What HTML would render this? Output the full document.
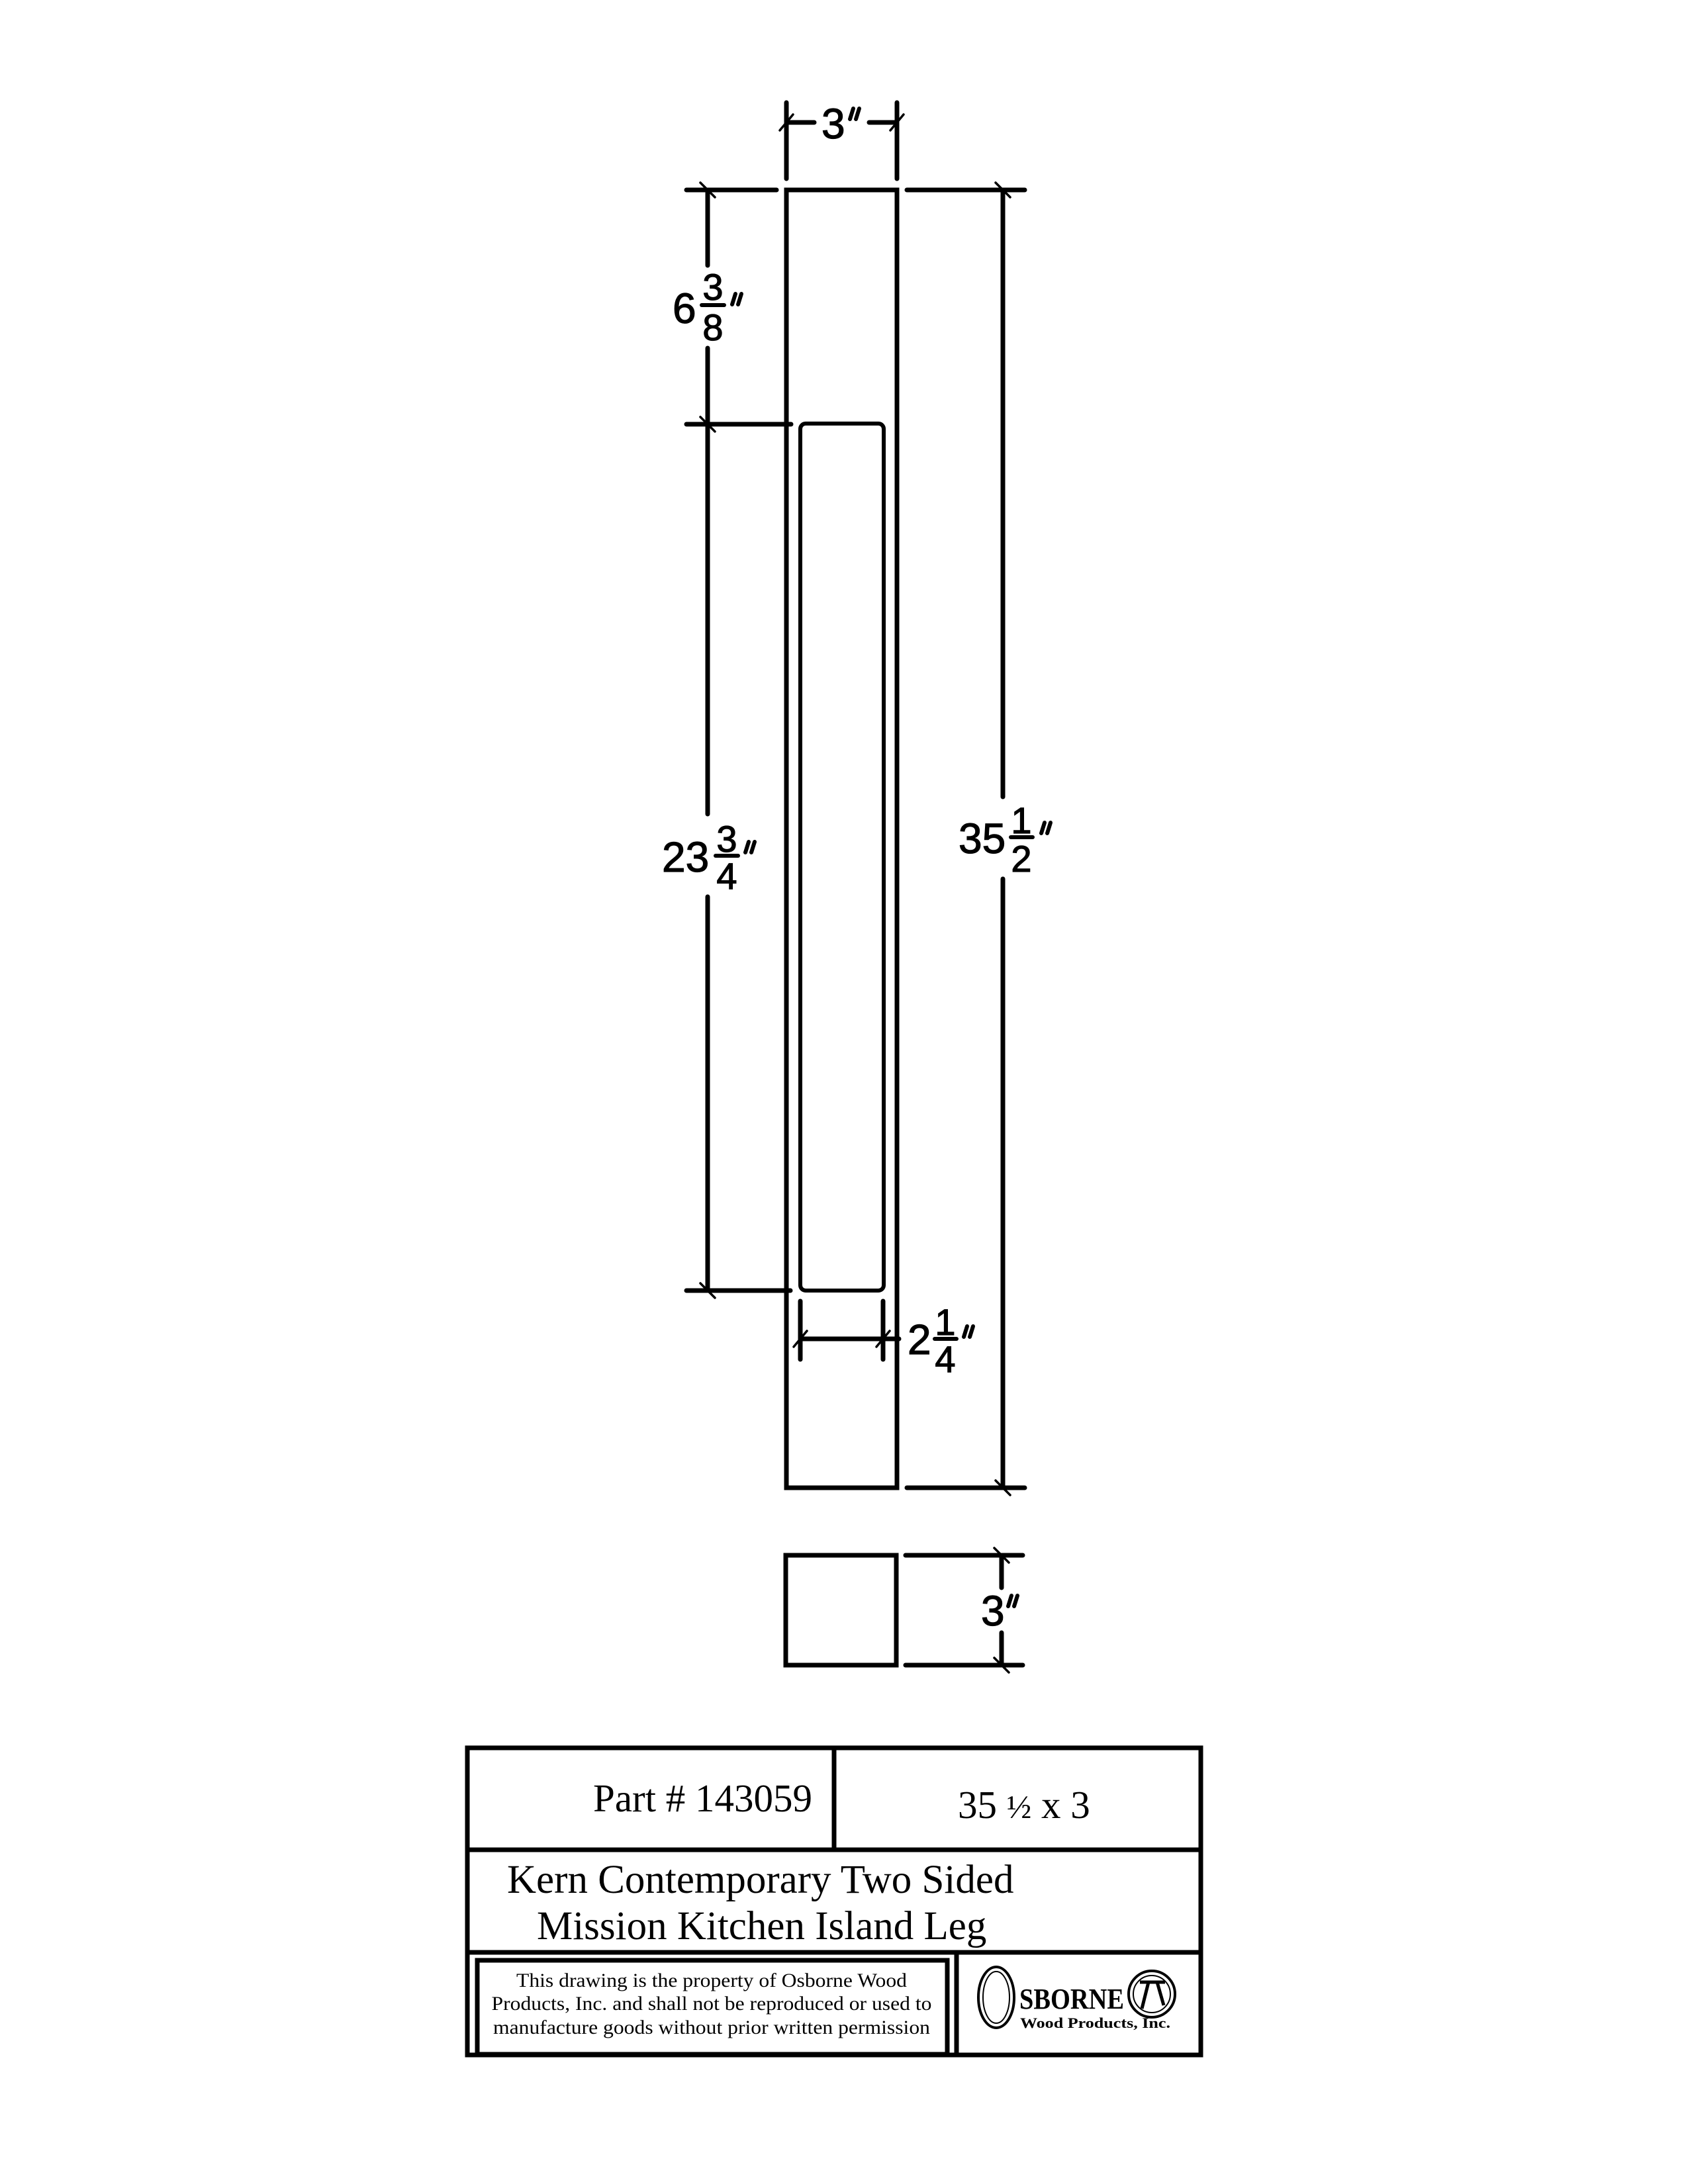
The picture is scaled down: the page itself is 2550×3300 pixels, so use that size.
<!DOCTYPE html>
<html><head><meta charset="utf-8"><style>
html,body{margin:0;padding:0;background:#fff;}
svg{display:block;}
.d{font-family:"Liberation Sans",sans-serif;font-size:64px;fill:#000;stroke:#000;stroke-width:1.2px;}
.f{font-family:"Liberation Sans",sans-serif;font-size:56px;fill:#000;stroke:#000;stroke-width:1.2px;text-anchor:middle;}
.s{font-family:"Liberation Serif",serif;fill:#000;}
</style></head><body>
<svg width="2550" height="3300" viewBox="0 0 2550 3300" xmlns="http://www.w3.org/2000/svg">
<g stroke="#000" stroke-width="7" stroke-linecap="round" fill="none">
<rect x="1188" y="287" width="167" height="1961"/>
<rect x="1209" y="640" width="126" height="1310" rx="8" stroke-width="6"/>
<line x1="1188" y1="155" x2="1188" y2="270"/>
<line x1="1355" y1="155" x2="1355" y2="270"/>
<line x1="1188" y1="185" x2="1230" y2="185"/>
<line x1="1313" y1="185" x2="1355" y2="185"/>
<line x1="1037" y1="287" x2="1173" y2="287"/>
<line x1="1370" y1="287" x2="1548" y2="287"/>
<line x1="1037" y1="641" x2="1195" y2="641"/>
<line x1="1037" y1="1950" x2="1194" y2="1950"/>
<line x1="1370" y1="2248" x2="1548" y2="2248"/>
<line x1="1069" y1="287" x2="1069" y2="401"/>
<line x1="1069" y1="526" x2="1069" y2="641"/>
<line x1="1069" y1="641" x2="1069" y2="1230"/>
<line x1="1069" y1="1355" x2="1069" y2="1950"/>
<line x1="1515" y1="287" x2="1515" y2="1204"/>
<line x1="1515" y1="1328" x2="1515" y2="2248"/>
<line x1="1209" y1="1966" x2="1209" y2="2054"/>
<line x1="1334" y1="1966" x2="1334" y2="2054"/>
<line x1="1209" y1="2023" x2="1358" y2="2023"/>
<rect x="1187" y="2350" width="167" height="166"/>
<line x1="1368" y1="2350" x2="1545" y2="2350"/>
<line x1="1368" y1="2516" x2="1545" y2="2516"/>
<line x1="1513" y1="2350" x2="1513" y2="2399"/>
<line x1="1513" y1="2467" x2="1513" y2="2516"/>
</g>
<g stroke="#000" stroke-width="3.5" stroke-linecap="round">
<line x1="1178" y1="197" x2="1198" y2="173"/>
<line x1="1345" y1="197" x2="1365" y2="173"/>
<line x1="1058" y1="276" x2="1080" y2="298"/>
<line x1="1058" y1="630" x2="1080" y2="652"/>
<line x1="1058" y1="1939" x2="1080" y2="1961"/>
<line x1="1504" y1="276" x2="1526" y2="298"/>
<line x1="1504" y1="2237" x2="1526" y2="2259"/>
<line x1="1199" y1="2035" x2="1219" y2="2011"/>
<line x1="1324" y1="2035" x2="1344" y2="2011"/>
<line x1="1502" y1="2339" x2="1524" y2="2361"/>
<line x1="1502" y1="2505" x2="1524" y2="2527"/>
</g>
<g stroke="#000" stroke-width="6" stroke-linecap="round">
<line x1="1060" y1="461" x2="1094" y2="461"/>
<line x1="1081" y1="1293" x2="1115" y2="1293"/>
<line x1="1527" y1="1265" x2="1560" y2="1265"/>
<line x1="1412" y1="2023" x2="1445" y2="2023"/>
<line x1="1106" y1="460" x2="1111" y2="444"/><line x1="1115" y1="460" x2="1120" y2="444"/>
<line x1="1126" y1="1288" x2="1131" y2="1272"/><line x1="1135" y1="1288" x2="1140" y2="1272"/>
<line x1="1573" y1="1259" x2="1578" y2="1243"/><line x1="1582" y1="1259" x2="1587" y2="1243"/>
<line x1="1456" y1="2020" x2="1461" y2="2004"/><line x1="1465" y1="2020" x2="1470" y2="2004"/>
<line x1="1523" y1="2427" x2="1528" y2="2411"/><line x1="1532" y1="2427" x2="1537" y2="2411"/>
<line x1="1284" y1="180" x2="1289" y2="164"/><line x1="1293" y1="180" x2="1298" y2="164"/>
</g>
<text class="d" x="1241" y="209">3</text>
<text class="d" x="1016" y="488">6</text>
<text class="f" x="1077" y="453">3</text>
<text class="f" x="1077" y="514">8</text>
<text class="d" x="1000" y="1317">23</text>
<text class="f" x="1098" y="1287">3</text>
<text class="f" x="1098" y="1343">4</text>
<text class="d" x="1448" y="1289">35</text>
<text class="f" x="1543" y="1259">1</text>
<text class="f" x="1543" y="1317">2</text>
<text class="d" x="1371" y="2046">2</text>
<text class="f" x="1428" y="2017">1</text>
<text class="f" x="1428" y="2073">4</text>
<text class="d" x="1482" y="2456">3</text>
<g stroke="#000" stroke-width="7" fill="none">
<rect x="706" y="2641" width="1108" height="464"/>
<line x1="1260" y1="2641" x2="1260" y2="2795"/>
<line x1="706" y1="2795" x2="1814" y2="2795"/>
<line x1="706" y1="2950" x2="1814" y2="2950"/>
<line x1="1445" y1="2950" x2="1445" y2="3105"/>
<rect x="721" y="2962" width="710" height="142"/>
</g>
<text class="s" x="896" y="2737" font-size="59">Part # 143059</text>
<text class="s" x="1447" y="2747" font-size="59">35 <tspan font-size="50">½</tspan> x 3</text>
<text class="s" x="766" y="2860" font-size="61">Kern Contemporary Two Sided</text>
<text class="s" x="811" y="2930" font-size="61">Mission Kitchen Island Leg</text>
<g class="s" font-size="30" text-anchor="middle">
<text x="1075" y="3002" textLength="590" lengthAdjust="spacingAndGlyphs">This drawing is the property of Osborne Wood</text>
<text x="1075" y="3037" textLength="665" lengthAdjust="spacingAndGlyphs">Products, Inc. and shall not be reproduced or used to</text>
<text x="1075" y="3073" textLength="660" lengthAdjust="spacingAndGlyphs">manufacture goods without prior written permission</text>
</g>
<g stroke="#000" fill="none">
<ellipse cx="1505" cy="3018" rx="27" ry="46" stroke-width="4"/>
<ellipse cx="1505" cy="3018" rx="20" ry="39" stroke-width="2"/>
<circle cx="1740" cy="3013" r="35" stroke-width="4"/>
<circle cx="1740" cy="3013" r="28" stroke-width="2"/>
<path d="M1722 2995 L1760 2995 M1735 2995 L1725 3035 M1748 2995 L1758 3030" stroke-width="5"/>
</g>
<text x="1540" y="3035" font-family="Liberation Serif,serif" font-weight="bold" font-size="44" textLength="158" lengthAdjust="spacingAndGlyphs">SBORNE</text>
<text x="1541" y="3064" font-family="Liberation Serif,serif" font-weight="bold" font-size="22" textLength="227" lengthAdjust="spacingAndGlyphs">Wood Products, Inc.</text>
</svg>
</body></html>
